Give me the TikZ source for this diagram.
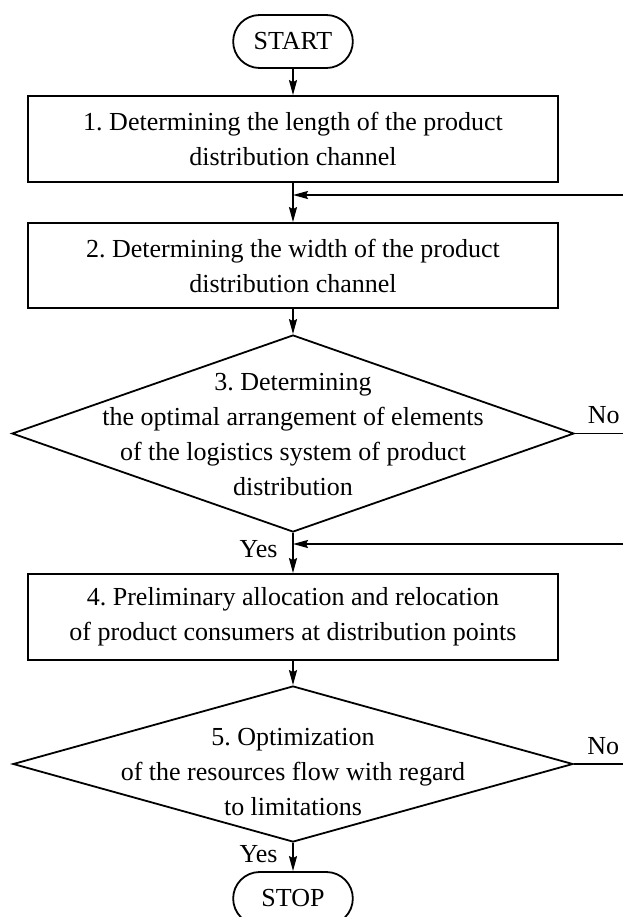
\documentclass[tikz,border=0pt]{standalone}
\usepackage{fontspec}
\setmainfont{Liberation Serif}
\frenchspacing
\usetikzlibrary{shapes.geometric,shapes.misc,arrows.meta}
\tikzset{
	every node/.style={font=\fontsize{13pt}{17.5pt}\selectfont, align=center},
	terminal/.style={draw, rounded rectangle, minimum width=66.5pt, minimum height=26.5pt, line width=0.9pt},
	process/.style={draw, rectangle, minimum width=265pt, minimum height=43pt, line width=0.9pt},
	decision/.style={draw, diamond, minimum width=281pt, minimum height=98.5pt, inner sep=0pt, line width=0.9pt},
	flowline/.style={draw, line width=0.9pt},
	flow/.style={flowline, -{Stealth[length=7.5pt,width=4pt,inset=1pt]}},
}
\begin{document}
\begin{tikzpicture}[x=0.5pt, y=-0.5pt]
	\useasboundingbox (0,0) rectangle (623,917);
	\clip (0,0) rectangle (623,917);

	\node[terminal] (start) at (293,41.5) {START};
	\node[process] (b1) at (293,139) {1. Determining the length of the product\\distribution channel};
	\node[process, minimum height=42.5pt] (b2) at (293,265.5) {2. Determining the width of the product\\distribution channel};
	\node[decision] (d3) at (293,433.5) {};
	\node (t3) at (293,435) {3. Determining\\the optimal arrangement of elements\\of the logistics system of product\\distribution};
	\node[process] (b4) at (293,617) {4. Preliminary allocation and relocation\\of product consumers at distribution points};
	\node[decision, minimum width=280pt, minimum height=78pt] (d5) at (293,764) {};
	\node (t5) at (293,772) {5. Optimization\\of the resources flow with regard\\to limitations};
	\node[terminal] (stop) at (293,898.5) {STOP};

	\coordinate (r1) at (623,195);
	\coordinate (r2) at (623,544);
	\coordinate (n3) at (623,433.5);
	\coordinate (n5) at (623,764);

	\path (start) edge[flow] (b1);
	\path (b1) edge[flow] (b2);
	\path (b2) edge[flow] (d3);
	\path (d3) edge[flow] node[left=4pt, pos=0.4] {Yes} (b4);
	\path (b4) edge[flow] (d5);
	\path (d5) edge[flow] node[left=4pt, pos=0.4] {Yes} (stop);
	\path (d3.east) edge[flowline] node[above=1pt, pos=0.6] {No} (n3);
	\path (d5.east) edge[flowline] node[above=1pt, pos=0.6] {No} (n5);
	\path (r1) edge[flow] (r1 -| b1.south);
	\path (r2) edge[flow] (r2 -| d3.south);
\end{tikzpicture}
\end{document}
